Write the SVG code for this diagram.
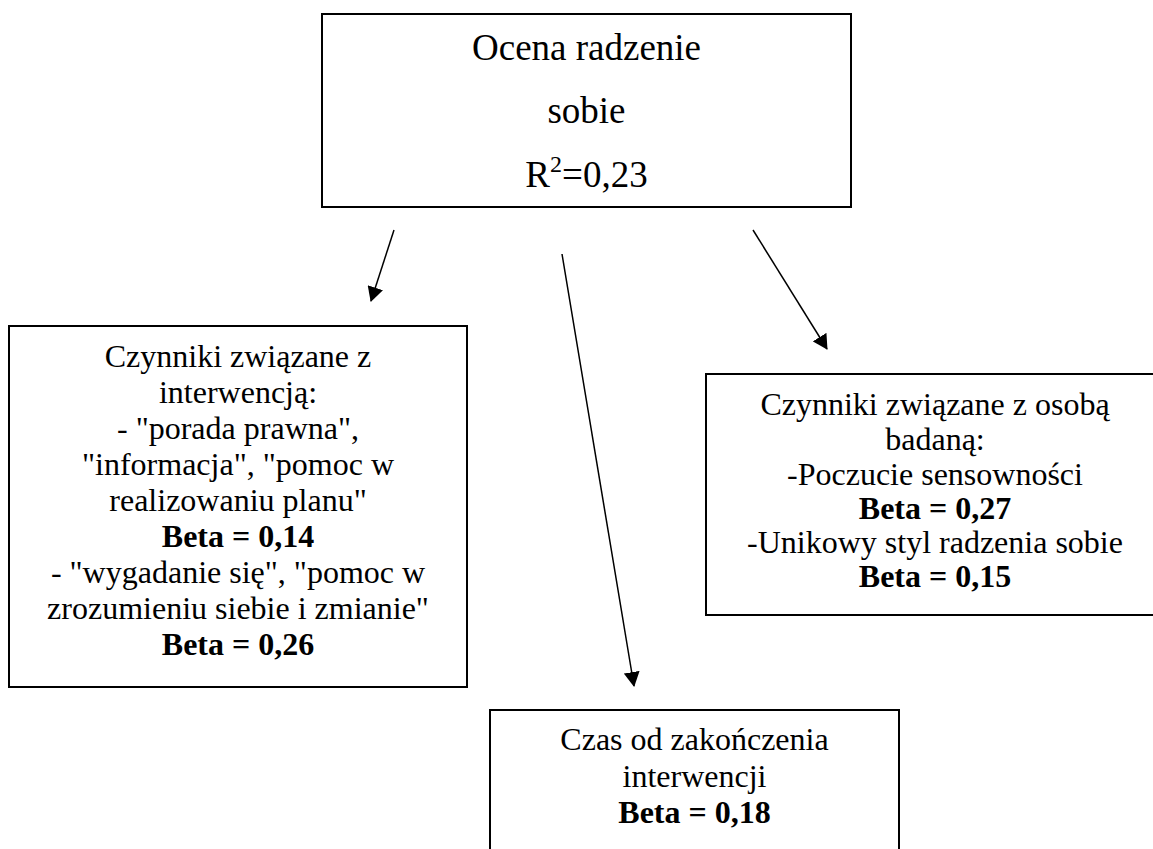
<svg xmlns="http://www.w3.org/2000/svg" width="1153" height="849" viewBox="0 0 1153 849">
<style>
.box{fill:#fff;stroke:#000;stroke-width:2}
.t{font-family:"Liberation Serif","Times New Roman",serif;fill:#000;text-anchor:middle}
.top{font-size:37px}
.n{font-size:32px}
.b{font-weight:bold}
.c{stroke:#000;stroke-width:1.5;fill:none;marker-end:url(#ah)}
</style>
<defs>
<marker id="ah" markerUnits="userSpaceOnUse" markerWidth="15" markerHeight="16" refX="14" refY="8" orient="auto" viewBox="0 0 15 16">
<path d="M0,0 L15,8 L0,16 Z" fill="#000"/>
</marker>
</defs>
<rect width="1153" height="849" fill="#fff"/>
<g id="connectors">
<line class="c" x1="394" y1="230" x2="371" y2="301"/>
<line class="c" x1="562" y1="254" x2="634" y2="686"/>
<line class="c" x1="753" y1="230" x2="827" y2="349"/>
</g>
<g id="node-top">
<rect class="box" x="322" y="14" width="529" height="193"/>
<text class="t top" x="586.5" y="60">Ocena radzenie</text>
<text class="t top" x="586.5" y="123">sobie</text>
<text class="t top" x="586.5" y="187">R<tspan font-size="24" dy="-15">2</tspan><tspan dy="15">=0,23</tspan></text>
</g>
<g id="node-interwencja">
<rect class="box" x="9" y="326" width="458" height="361"/>
<text class="t n" x="238" y="367">Czynniki związane z</text>
<text class="t n" x="238" y="403">interwencją:</text>
<text class="t n" x="238" y="439">- "porada prawna",</text>
<text class="t n" x="238" y="475">"informacja", "pomoc w</text>
<text class="t n" x="238" y="511">realizowaniu planu"</text>
<text class="t n b" x="238" y="547">Beta = 0,14</text>
<text class="t n" x="238" y="583">- "wygadanie się", "pomoc w</text>
<text class="t n" x="238" y="619">zrozumieniu siebie i zmianie"</text>
<text class="t n b" x="238" y="655">Beta = 0,26</text>
</g>
<g id="node-osoba">
<rect class="box" x="706" y="374" width="458" height="241"/>
<text class="t n" x="935" y="415">Czynniki związane z osobą</text>
<text class="t n" x="935" y="450">badaną:</text>
<text class="t n" x="935" y="485">-Poczucie sensowności</text>
<text class="t n b" x="935" y="519">Beta = 0,27</text>
<text class="t n" x="935" y="553">-Unikowy styl radzenia sobie</text>
<text class="t n b" x="935" y="587">Beta = 0,15</text>
</g>
<g id="node-czas">
<rect class="box" x="490" y="710" width="409" height="160"/>
<text class="t n" x="694.5" y="750">Czas od zakończenia</text>
<text class="t n" x="694.5" y="787">interwencji</text>
<text class="t n b" x="694.5" y="823">Beta = 0,18</text>
</g>
</svg>
